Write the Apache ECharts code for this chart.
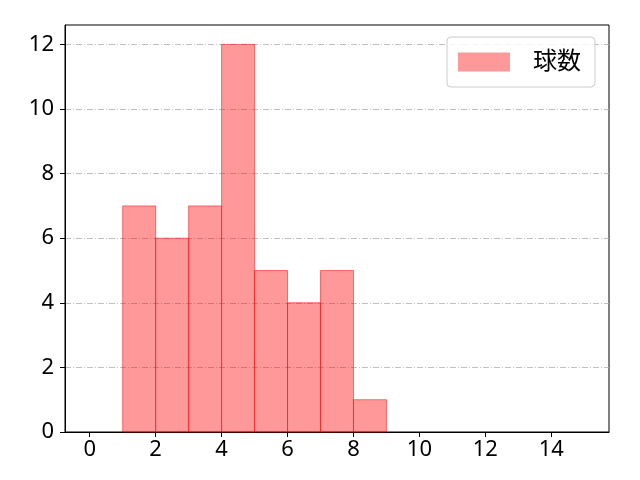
<!DOCTYPE html>
<html><head><meta charset="utf-8">
<script src="https://cdn.jsdelivr.net/npm/echarts@6/dist/echarts.min.js"></script>
<style>html,body{margin:0;padding:0;background:#fff}#c{width:640px;height:480px}</style>
</head><body><div id="c"></div>
<script>
const binStarts = [1, 2, 3, 4, 5, 6, 7, 8];
const binWidth = 1;
const counts = [7, 6, 7, 12, 5, 4, 5, 1];
const xTicks = [0, 2, 4, 6, 8, 10, 12, 14];
const yTicks = [0, 2, 4, 6, 8, 10, 12];
const seriesName = '球数';

const data = binStarts.map((s, i) => [s, s + binWidth, counts[i]]);
const font = '"Noto Sans", "Noto Sans CJK JP", sans-serif';
const chart = echarts.init(document.getElementById('c'));
chart.setOption({
  animation: false,
  backgroundColor: '#fff',
  grid: { left: 65, right: 31, top: 25, bottom: 48, show: true, borderColor: '#000', borderWidth: 1, backgroundColor: 'transparent', containLabel: false },
  legend: {
    data: [{ name: seriesName, icon: 'rect' }],
    left: 447, top: 37,
    padding: [13, 14, 13, 11],
    itemWidth: 52, itemHeight: 19, itemGap: 10,
    borderColor: '#cccccc', borderWidth: 1, borderRadius: 4,
    backgroundColor: 'rgba(255,255,255,0.8)',
    textStyle: { fontSize: 24, color: '#000', fontFamily: font, padding: [0, 0, 0, 18] }
  },
  xAxis: {
    type: 'value', min: -0.75, max: 15.75,
    splitLine: { show: false },
    axisLine: { show: true, onZero: false, lineStyle: { color: '#000', width: 1 } },
    axisTick: { show: true, length: 5, customValues: xTicks, lineStyle: { color: '#000' } },
    axisLabel: { customValues: xTicks, fontSize: 22, color: '#000', fontFamily: font, margin: 7 }
  },
  yAxis: {
    type: 'value', min: 0, max: 12.6, interval: 2,
    axisLine: { show: true, onZero: false, lineStyle: { color: '#000', width: 1 } },
    axisTick: { show: true, length: 5, customValues: yTicks, lineStyle: { color: '#000' } },
    axisLabel: { customValues: yTicks, fontSize: 22, color: '#000', fontFamily: font, margin: 11 },
    splitLine: { show: true, lineStyle: { color: '#b0b0b0', width: 0.8, type: [6, 2, 1, 2] } }
  },
  series: [{
    name: seriesName,
    type: 'custom',
    data: data,
    encode: { x: [0, 1], y: 2 },
    itemStyle: { color: 'rgba(255,0,0,0.4)' },
    renderItem: function (params, api) {
      const p0 = api.coord([api.value(0), 0]);
      const p1 = api.coord([api.value(1), api.value(2)]);
      return {
        type: 'rect',
        shape: { x: p0[0], y: p1[1], width: p1[0] - p0[0], height: p0[1] - p1[1] },
        style: { fill: 'rgba(255,0,0,0.4)', stroke: 'rgba(255,0,0,0.5)', lineWidth: 1 }
      };
    }
  }]
});
</script></body></html>
